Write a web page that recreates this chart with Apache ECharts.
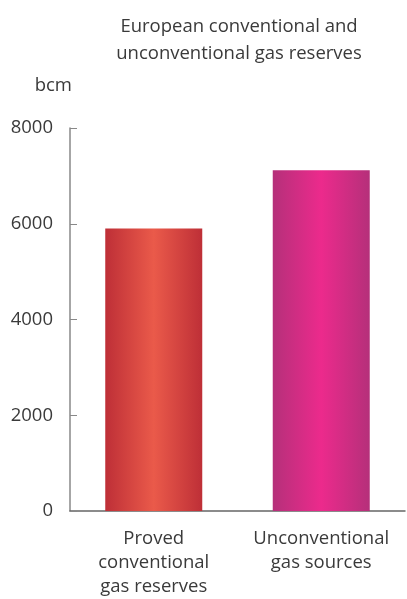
<!DOCTYPE html>
<html>
<head>
<meta charset="utf-8">
<script src="https://cdn.jsdelivr.net/npm/echarts@6/dist/echarts.min.js"></script>
<style>
html,body{margin:0;padding:0;background:#fff;}
#c{width:407px;height:599px;}
</style>
</head>
<body>
<div id="c"></div>
<script>
var titleText = 'European conventional and\nunconventional gas reserves';
var unitName = 'bcm';
var categories = ['Proved\nconventional\ngas reserves', 'Unconventional\ngas sources'];
var values = [5900, 7120];
var barColors = [
  ['#be2f37', '#ea5a4a', '#be2f37'],
  ['#b5307a', '#ec2a8c', '#b5307a']
];
var yTicks = [0, 2000, 4000, 6000, 8000];

var FONT = '"Open Sans", sans-serif';
var chart = echarts.init(document.getElementById('c'), null, {renderer: 'canvas'});

function grad(c) {
  return new echarts.graphic.LinearGradient(0, 0, 1, 0, [
    {offset: 0, color: c[0]},
    {offset: 0.5, color: c[1]},
    {offset: 1, color: c[2]}
  ]);
}

chart.setOption({
  animation: false,
  title: {
    text: titleText,
    left: 234,
    textAlign: 'center',
    top: 8,
    textStyle: {fontFamily: FONT, fontSize: 18.5, fontWeight: 'normal', color: '#3a3a3a', lineHeight: 27}
  },
  grid: {left: 70, right: 2, top: 128, bottom: 82, containLabel: false},
  xAxis: {
    type: 'category',
    data: categories,
    axisLine: {lineStyle: {color: '#666', width: 1.5}},
    axisTick: {show: false},
    axisLabel: {fontFamily: FONT, fontSize: 18.5, color: '#3a3a3a', lineHeight: 24, margin: 16, interval: 0}
  },
  yAxis: {
    type: 'value',
    min: yTicks[0],
    max: yTicks[yTicks.length - 1],
    interval: 2000,
    name: unitName,
    nameLocation: 'end',
    nameGap: 33,
    nameTextStyle: {fontFamily: FONT, fontSize: 18.5, color: '#3a3a3a', align: 'right', padding: [0, -2, 0, 0]},
    axisLine: {show: true, lineStyle: {color: '#888', width: 1.5}},
    axisTick: {show: true, inside: true, length: 7, lineStyle: {color: '#888'}},
    splitLine: {show: false},
    axisLabel: {fontFamily: FONT, fontSize: 18.5, color: '#3a3a3a', margin: 17, formatter: function (v) { return String(v); }}
  },
  series: [{
    type: 'bar',
    barWidth: 97,
    data: values.map(function (v, i) {
      return {value: v, itemStyle: {color: grad(barColors[i])}};
    })
  }]
});
</script>
</body>
</html>
